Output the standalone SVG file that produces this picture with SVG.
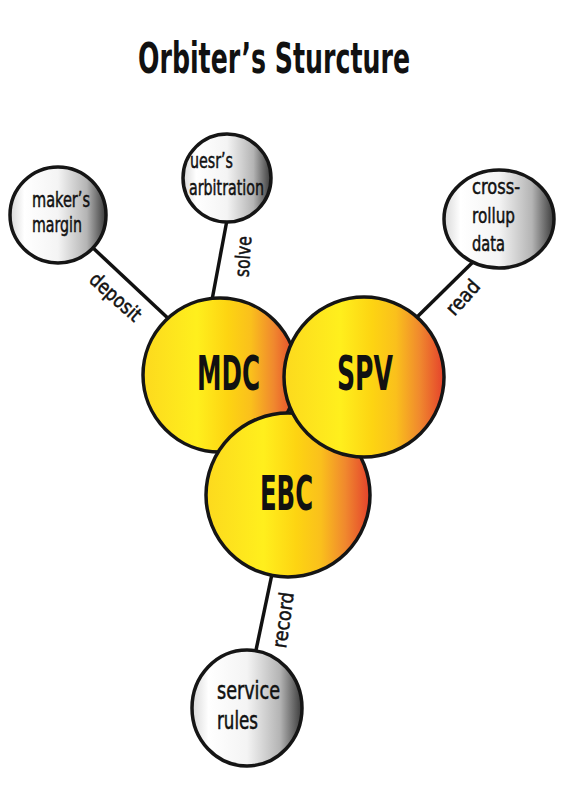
<svg xmlns="http://www.w3.org/2000/svg" width="567" height="792" viewBox="0 0 567 792">
<defs>
<linearGradient id="hot" x1="0" y1="0" x2="1" y2="0">
<stop offset="0" stop-color="#FCD91E"/>
<stop offset="0.35" stop-color="#FFEF1D"/>
<stop offset="0.55" stop-color="#FDD412"/>
<stop offset="0.7" stop-color="#FAC01C"/>
<stop offset="0.85" stop-color="#F0882E"/>
<stop offset="1" stop-color="#E4412C"/>
</linearGradient>
<linearGradient id="cool" x1="0" y1="0" x2="1" y2="0">
<stop offset="0" stop-color="#D8D8D8"/>
<stop offset="0.15" stop-color="#FFFFFF"/>
<stop offset="0.5" stop-color="#F4F4F4"/>
<stop offset="0.8" stop-color="#B4B4B4"/>
<stop offset="1" stop-color="#3A3A3A"/>
</linearGradient>
</defs>
<style>
.big{fill:url(#hot);stroke:#151515;stroke-width:3.5}
.small{fill:url(#cool);stroke:#151515;stroke-width:3.5}
.conn{stroke:#111;stroke-width:3.5;fill:none}
text{font-family:"DejaVu Sans Condensed","Liberation Sans Narrow","DejaVu Sans",sans-serif;fill:#111}
.t{font-size:22px;stroke:#111;stroke-width:0.5}
.b{font-size:48px;font-weight:bold}
.lbl{font-size:20px;text-anchor:middle;stroke:#111;stroke-width:0.5}
.title{font-size:43px;font-weight:bold;text-anchor:middle}
</style>
<text class="title" x="274" y="73" textLength="272" lengthAdjust="spacingAndGlyphs">Orbiter’s Sturcture</text>
<g id="connectors">
<line class="conn" x1="92" y1="247" x2="172" y2="322"/>
<line class="conn" x1="227" y1="220" x2="212" y2="300"/>
<line class="conn" x1="475" y1="260" x2="414" y2="320"/>
<line class="conn" x1="272" y1="574" x2="255" y2="655"/>
<text class="lbl" transform="translate(111,302) rotate(42)" textLength="62" lengthAdjust="spacingAndGlyphs">deposit</text>
<text class="lbl" transform="translate(250,257) rotate(-86)" textLength="41" lengthAdjust="spacingAndGlyphs">solve</text>
<text class="lbl" transform="translate(468,302) rotate(-48)" textLength="40" lengthAdjust="spacingAndGlyphs">read</text>
<text class="lbl" transform="translate(290,621) rotate(-82)" textLength="56" lengthAdjust="spacingAndGlyphs">record</text>
</g>
<g id="makers-margin">
<circle class="small" cx="58" cy="215" r="48"/>
<text class="t" x="32" y="207" textLength="58" lengthAdjust="spacingAndGlyphs">maker’s</text>
<text class="t" x="32" y="232" textLength="50" lengthAdjust="spacingAndGlyphs">margin</text>
</g>
<g id="uesrs-arbitration">
<circle class="small" cx="227" cy="178" r="44"/>
<text class="t" x="190" y="168" textLength="43" lengthAdjust="spacingAndGlyphs">uesr’s</text>
<text class="t" x="189" y="195" textLength="75" lengthAdjust="spacingAndGlyphs">arbitration</text>
</g>
<g id="cross-rollup-data">
<ellipse class="small" cx="499" cy="219" rx="55" ry="49"/>
<text class="t" x="472" y="194" textLength="48" lengthAdjust="spacingAndGlyphs">cross-</text>
<text class="t" x="472" y="223" textLength="43" lengthAdjust="spacingAndGlyphs">rollup</text>
<text class="t" x="472" y="251" textLength="33" lengthAdjust="spacingAndGlyphs">data</text>
</g>
<g id="service-rules">
<ellipse class="small" cx="247" cy="708" rx="55" ry="58"/>
<text class="t" x="217" y="699" textLength="63" lengthAdjust="spacingAndGlyphs" style="font-size:24px">service</text>
<text class="t" x="217" y="729" textLength="41" lengthAdjust="spacingAndGlyphs" style="font-size:24px">rules</text>
</g>
<g id="MDC">
<circle class="big" cx="220" cy="375" r="77"/>
<text class="b" x="197" y="390" textLength="63" lengthAdjust="spacingAndGlyphs">MDC</text>
</g>
<g id="EBC">
<circle class="big" cx="288" cy="495" r="82"/>
<text class="b" x="260" y="510" textLength="53" lengthAdjust="spacingAndGlyphs">EBC</text>
</g>
<g id="SPV">
<circle class="big" cx="364" cy="377" r="80"/>
<text class="b" x="337" y="390" textLength="56" lengthAdjust="spacingAndGlyphs">SPV</text>
</g>
</svg>
